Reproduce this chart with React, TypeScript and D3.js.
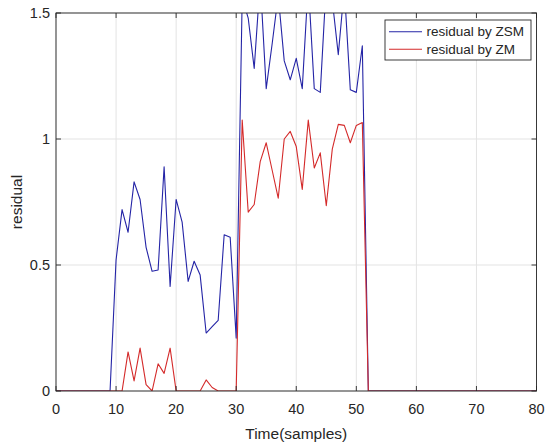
import React from "react";
import * as d3 from "d3";

// samples 0..80
const SAMPLES = d3.range(0, 81);

const ZSM = [
  0, 0, 0, 0, 0, 0, 0, 0, 0, 0,
  0.52, 0.72, 0.63, 0.83, 0.76, 0.57, 0.475, 0.48, 0.89, 0.415,
  0.76, 0.67, 0.435, 0.515, 0.46, 0.23, 0.255, 0.28, 0.62, 0.61,
  0.21, 1.56, 1.48, 1.28, 1.63, 1.2, 1.38, 1.57, 1.31, 1.235,
  1.32, 1.2, 1.62, 1.2, 1.185, 1.62, 1.55, 1.335, 1.6, 1.195,
  1.185, 1.37, 0, 0, 0, 0, 0, 0, 0, 0,
  0, 0, 0, 0, 0, 0, 0, 0, 0, 0,
  0, 0, 0, 0, 0, 0, 0, 0, 0, 0,
  0,
];

const ZM = [
  0, 0, 0, 0, 0, 0, 0, 0, 0, 0,
  0, 0, 0.155, 0.04, 0.17, 0.025, 0, 0.108, 0.07, 0.17,
  0, 0, 0, 0, 0, 0.044, 0.014, 0, 0, 0,
  0, 1.075, 0.71, 0.74, 0.91, 0.985, 0.875, 0.765, 1.0, 1.03,
  0.97, 0.8, 1.075, 0.885, 0.945, 0.735, 0.96, 1.058, 1.054, 0.985,
  1.054, 1.065, 0, 0, 0, 0, 0, 0, 0, 0,
  0, 0, 0, 0, 0, 0, 0, 0, 0, 0,
  0, 0, 0, 0, 0, 0, 0, 0, 0, 0,
  0,
];

const X_TICKS = [0, 10, 20, 30, 40, 50, 60, 70, 80];
const Y_TICKS = [0, 0.5, 1, 1.5];

const SERIES = [
  { key: "zsm", label: "residual by ZSM", values: ZSM, color: "#2424a6" },
  { key: "zm", label: "residual by ZM", values: ZM, color: "#d42a2a" },
];

const W = 550;
const H = 446;
const FONT = "'Liberation Sans', Arial, Helvetica, sans-serif";
const AXIS = "#262626";
const GRID = "#e3e3e3";

export default function App() {
  const margin = { top: 13, right: 13.5, bottom: 55, left: 56 };
  const pw = W - margin.left - margin.right;
  const ph = H - margin.top - margin.bottom;

  const x = d3.scaleLinear().domain([0, 80]).range([0, pw]);
  const y = d3.scaleLinear().domain([0, 1.5]).range([ph, 0]);

  const line = (vals: number[]) =>
    d3
      .line<number>()
      .x((_, i) => x(SAMPLES[i]))
      .y((d) => y(d))(vals) || "";

  const tick = 5;

  return (
    <svg width={W} height={H} style={{ position: "absolute", left: 0, top: 0, background: "#fff" }}>
      <defs>
        <clipPath id="plot-clip">
          <rect x={0} y={0} width={pw} height={ph} />
        </clipPath>
      </defs>
      <g transform={`translate(${margin.left},${margin.top})`}>
        {/* grid */}
        {X_TICKS.map((t) => (
          <line key={"gx" + t} x1={x(t)} x2={x(t)} y1={0} y2={ph} stroke={GRID} strokeWidth={1} />
        ))}
        {Y_TICKS.map((t) => (
          <line key={"gy" + t} x1={0} x2={pw} y1={y(t)} y2={y(t)} stroke={GRID} strokeWidth={1} />
        ))}

        {/* lines */}
        <g clipPath="url(#plot-clip)">
          {SERIES.map((s) => (
            <path key={s.key} d={line(s.values)} fill="none" stroke={s.color} strokeWidth={1.1} strokeLinejoin="round" />
          ))}
        </g>

        {/* box + ticks */}
        <rect x={0} y={0} width={pw} height={ph} fill="none" stroke={AXIS} strokeWidth={0.9} />
        {X_TICKS.map((t) => (
          <g key={"tx" + t}>
            <line x1={x(t)} x2={x(t)} y1={ph} y2={ph - tick} stroke={AXIS} strokeWidth={0.9} />
            <line x1={x(t)} x2={x(t)} y1={0} y2={tick} stroke={AXIS} strokeWidth={0.9} />
            <text x={x(t)} y={ph + 23} fontSize={14.5} fontFamily={FONT} fill={AXIS} textAnchor="middle">
              {t}
            </text>
          </g>
        ))}
        {Y_TICKS.map((t) => (
          <g key={"ty" + t}>
            <line x1={0} x2={tick} y1={y(t)} y2={y(t)} stroke={AXIS} strokeWidth={0.9} />
            <line x1={pw} x2={pw - tick} y1={y(t)} y2={y(t)} stroke={AXIS} strokeWidth={0.9} />
            <text x={-6} y={y(t)} dy="0.35em" fontSize={14.5} fontFamily={FONT} fill={AXIS} textAnchor="end">
              {t}
            </text>
          </g>
        ))}

        {/* axis labels */}
        <text x={pw / 2} y={ph + 48} fontSize={15.5} fontFamily={FONT} fill={AXIS} textAnchor="middle">
          Time(samples)
        </text>
        <text
          transform={`translate(${-34},${189}) rotate(-90)`}
          fontSize={15.5}
          fontFamily={FONT}
          fill={AXIS}
          textAnchor="middle"
        >
          residual
        </text>

        {/* legend */}
        <g transform={`translate(${329},${7})`}>
          <rect x={0} y={0} width={146} height={40} fill="#fff" stroke={AXIS} strokeWidth={0.9} />
          {SERIES.map((s, i) => (
            <g key={s.key} transform={`translate(0,${11.7 + i * 17.5})`}>
              <line x1={4} x2={37} y1={0} y2={0} stroke={s.color} strokeWidth={1.1} />
              <text x={41.5} y={0} dy="0.35em" fontSize={13.5} fontFamily={FONT} fill={AXIS}>
                {s.label}
              </text>
            </g>
          ))}
        </g>
      </g>
    </svg>
  );
}
